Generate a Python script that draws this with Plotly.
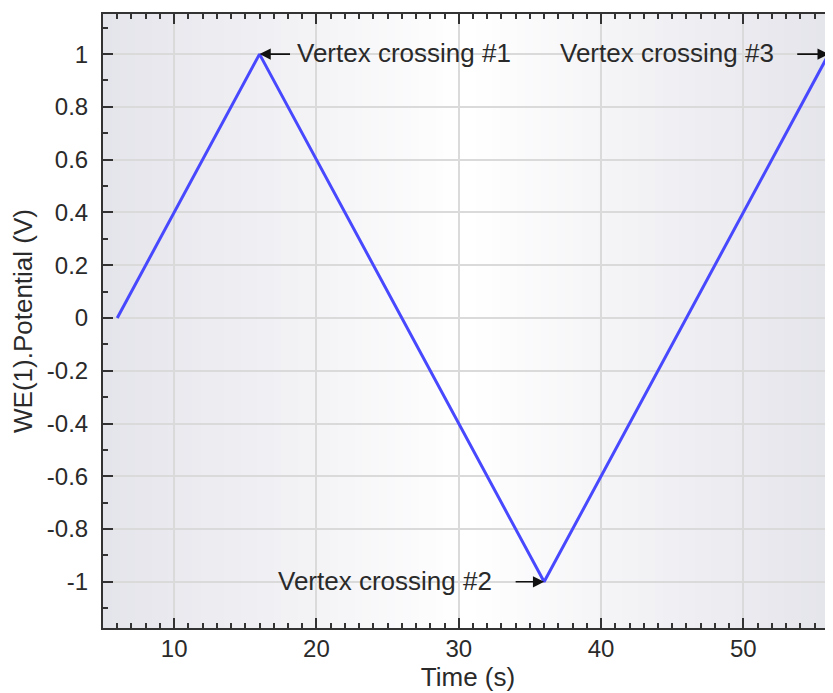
import plotly.graph_objects as go

# ---- data ----
time_s = [6, 16, 36, 56]
potential_v = [0, 1, -1, 1]

vertex_labels = ["Vertex crossing #1", "Vertex crossing #2", "Vertex crossing #3"]
vertex_index = [1, 2, 3]

x_tick_vals = [10, 20, 30, 40, 50]
x_tick_text = ["10", "20", "30", "40", "50"]
y_tick_vals = [1, 0.8, 0.6, 0.4, 0.2, 0, -0.2, -0.4, -0.6, -0.8, -1]
y_tick_text = ["1", "0.8", "0.6", "0.4", "0.2", "0", "-0.2", "-0.4", "-0.6", "-0.8", "-1"]

FONT = "Liberation Sans, Arial, sans-serif"
TXT = "#2a2a2a"
AX = "#333333"

fig = go.Figure()
fig.add_trace(go.Scatter(x=time_s, y=potential_v, mode="lines",
                         line=dict(color="#4848ff", width=3), hoverinfo="skip"))

# horizontal gradient background (gray edges -> white centre)
N = 90
edge = (228, 228, 235)
shapes = []
for i in range(N):
    c = (i + 0.5) / N
    t = abs(c - 0.5) / 0.5
    col = tuple(round(255 * (1 - t) + e * t) for e in edge)
    shapes.append(dict(type="rect", xref="x domain", yref="y domain",
                       x0=i / N, x1=(i + 1) / N + 0.002, y0=0, y1=1,
                       fillcolor="rgb(%d,%d,%d)" % col, line=dict(width=0),
                       layer="below"))

ann = []
arrow_offsets = [32, -30, -33]
text_shift = [35, -50, -53]
text_anchor = ["left", "right", "right"]
for lab, idx, ao, ts, xa in zip(vertex_labels, vertex_index, arrow_offsets, text_shift, text_anchor):
    ann.append(dict(x=time_s[idx], y=potential_v[idx], xref="x", yref="y",
                    text="", showarrow=True, ax=ao, ay=0,
                    arrowhead=2, arrowsize=1.4, arrowwidth=1.6, arrowcolor="#111111"))
    ann.append(dict(x=time_s[idx], y=potential_v[idx], xref="x", yref="y",
                    text=lab, showarrow=False, xanchor=xa, yanchor="middle",
                    xshift=ts, yshift=1, font=dict(family=FONT, size=26, color=TXT)))

# page body has an 8px margin: figure spans page x 8..833, y 8..693
fig.update_layout(
    width=825, height=685,
    margin=dict(l=95, r=0, t=6, b=65, autoexpand=False),
    paper_bgcolor="white", plot_bgcolor="white",
    showlegend=False,
    shapes=shapes, annotations=ann,
    font=dict(family=FONT, size=24, color=TXT),
)

fig.update_xaxes(
    range=[5, 56.3], tickvals=x_tick_vals, ticktext=x_tick_text, automargin=False,
    showline=True, linecolor=AX, linewidth=2, mirror="allticks",
    ticks="inside", ticklen=10, tickwidth=1.5, tickcolor=AX,
    showgrid=True, gridcolor="#dadada", gridwidth=1.5, zeroline=False,
    minor=dict(ticks="inside", dtick=1, ticklen=5, tickwidth=1.5, tickcolor=AX, showgrid=False),
    tickfont=dict(family=FONT, size=24, color=TXT), ticklabelstandoff=-2,
    title=dict(text="Time (s)", font=dict(family=FONT, size=26, color=TXT), standoff=2),
)
fig.update_yaxes(
    range=[-1.175, 1.152], tickvals=y_tick_vals, ticktext=y_tick_text, automargin=False,
    showline=True, linecolor=AX, linewidth=2, mirror=False,
    ticks="inside", ticklen=10, tickwidth=1.5, tickcolor=AX,
    showgrid=True, gridcolor="#dadada", gridwidth=1.5, zeroline=False,
    minor=dict(ticks="inside", dtick=0.1, tick0=0, ticklen=5, tickwidth=1.5, tickcolor=AX, showgrid=False),
    tickfont=dict(family=FONT, size=24, color=TXT), ticklabelstandoff=8,
    title=dict(text="WE(1).Potential (V)", font=dict(family=FONT, size=26, color=TXT), standoff=8),
)

fig.write_html("out.html")
